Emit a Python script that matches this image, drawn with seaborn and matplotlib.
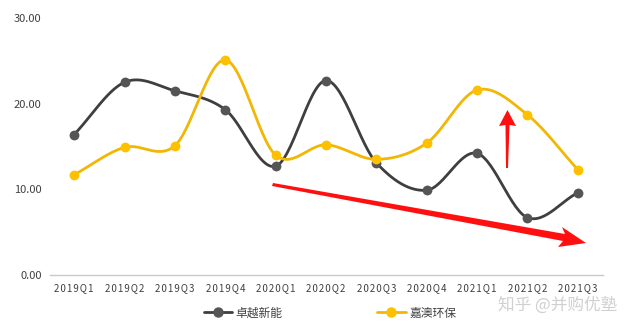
import numpy as np
import pandas as pd
import matplotlib
matplotlib.use("Agg")
import matplotlib.pyplot as plt
from matplotlib.patches import Polygon
from matplotlib.lines import Line2D
import seaborn as sns

quarters = ["2019Q1", "2019Q2", "2019Q3", "2019Q4", "2020Q1", "2020Q2",
            "2020Q3", "2020Q4", "2021Q1", "2021Q2", "2021Q3"]
zhuoyue = [16.4, 22.5, 21.5, 19.3, 12.7, 22.7, 13.1, 9.9, 14.2, 6.7, 9.6]
jiaao = [11.7, 14.9, 15.1, 25.1, 14.0, 15.2, 13.5, 15.4, 21.6, 18.7, 12.3]
series_names = ["卓越新能", "嘉澳环保"]
yticks = [0, 10, 20, 30]

sns.set_style("white")
plt.rcParams['font.family'] = ['Noto Sans CJK SC', 'DejaVu Sans']

fig = plt.figure(figsize=(6.34, 3.35), dpi=100)
ax = fig.add_axes([50/634, 60/335, 553/634, 257/335])


def smooth(x, y, n=30):
    x = np.asarray(x, float); y = np.asarray(y, float)
    px = np.concatenate([[2*x[0]-x[1]], x, [2*x[-1]-x[-2]]])
    py = np.concatenate([[2*y[0]-y[1]], y, [2*y[-1]-y[-2]]])
    xs, ys = [], []
    for i in range(1, len(px)-2):
        t = np.linspace(0, 1, n, endpoint=False)
        for arr, out in ((px, xs), (py, ys)):
            p0, p1, p2, p3 = arr[i-1], arr[i], arr[i+1], arr[i+2]
            out.extend(0.5*((2*p1) + (-p0+p2)*t + (2*p0-5*p1+4*p2-p3)*t**2 + (-p0+3*p1-3*p2+p3)*t**3))
    xs.append(x[-1]); ys.append(y[-1])
    return np.array(xs), np.array(ys)

colors = {"卓越新能": ("#3f3f3f", "#555555"), "嘉澳环保": ("#F2B705", "#FFC000")}
idx = np.arange(len(quarters))
for name, vals in zip(series_names, [zhuoyue, jiaao]):
    sx, sy = smooth(idx, vals)
    sm = pd.DataFrame({"x": sx, "y": sy})
    sns.lineplot(data=sm, x="x", y="y", ax=ax, color=colors[name][0], lw=2.0,
                 sort=False, estimator=None)
    pts = pd.DataFrame({"x": idx, "y": vals})
    sns.scatterplot(data=pts, x="x", y="y", ax=ax, color=colors[name][1], s=50,
                    edgecolor=colors[name][1], linewidth=0, zorder=3)

ax.set_xlim(-0.48, 10.5)
ax.set_ylim(0, 30)
ax.set_yticks(yticks)
ax.set_yticklabels([f"{v:.2f}" for v in yticks], fontsize=8, color="#404040")
ax.set_xticks(idx)
ax.set_xticklabels(["\u200a".join(q) for q in quarters], fontsize=7, color="#404040")
ax.tick_params(axis="both", length=0, pad=6)
ax.set_xlabel(""); ax.set_ylabel("")
for s in ["top", "right", "left"]:
    ax.spines[s].set_visible(False)
ax.spines["bottom"].set_color("#c8c8c8")
ax.spines["bottom"].set_linewidth(1)

# red arrows drawn in pixel space
def px_to_data(pts):
    disp = [(x, 335 - y) for x, y in pts]
    return ax.transData.inverted().transform(disp)

fig.canvas.draw()
big = [(273, 183), (565, 234), (562, 227), (586, 243), (558, 247), (563, 241), (272, 186)]
ax.add_patch(Polygon(px_to_data(big), closed=True, transform=ax.transData,
                     facecolor="#FF1010", edgecolor="none", zorder=4, clip_on=False))
small = [(506, 168), (505.5, 125), (499, 126), (507.5, 110), (516, 126), (509.5, 125), (508, 168)]
ax.add_patch(Polygon(px_to_data(small), closed=True, transform=ax.transData,
                     facecolor="#FF1010", edgecolor="none", zorder=4, clip_on=False))

handles = [Line2D([0], [0], color=colors[n][0], lw=2.0, marker="o", markersize=6.5,
                  markerfacecolor=colors[n][1], markeredgecolor=colors[n][1]) for n in series_names]
fig.legend(handles, series_names, loc="center", bbox_to_anchor=(330/634, 1 - 313/335),
           ncol=2, frameon=False, fontsize=8.5, columnspacing=8, handlelength=2.4,
           handletextpad=0.3, labelcolor="#404040")

fig.text(617/634, 1 - 305/335, "知乎 @并购优塾", ha="right", va="center", fontsize=12,
         color="#d0d0d0")

fig.savefig("out.png", dpi=100)
